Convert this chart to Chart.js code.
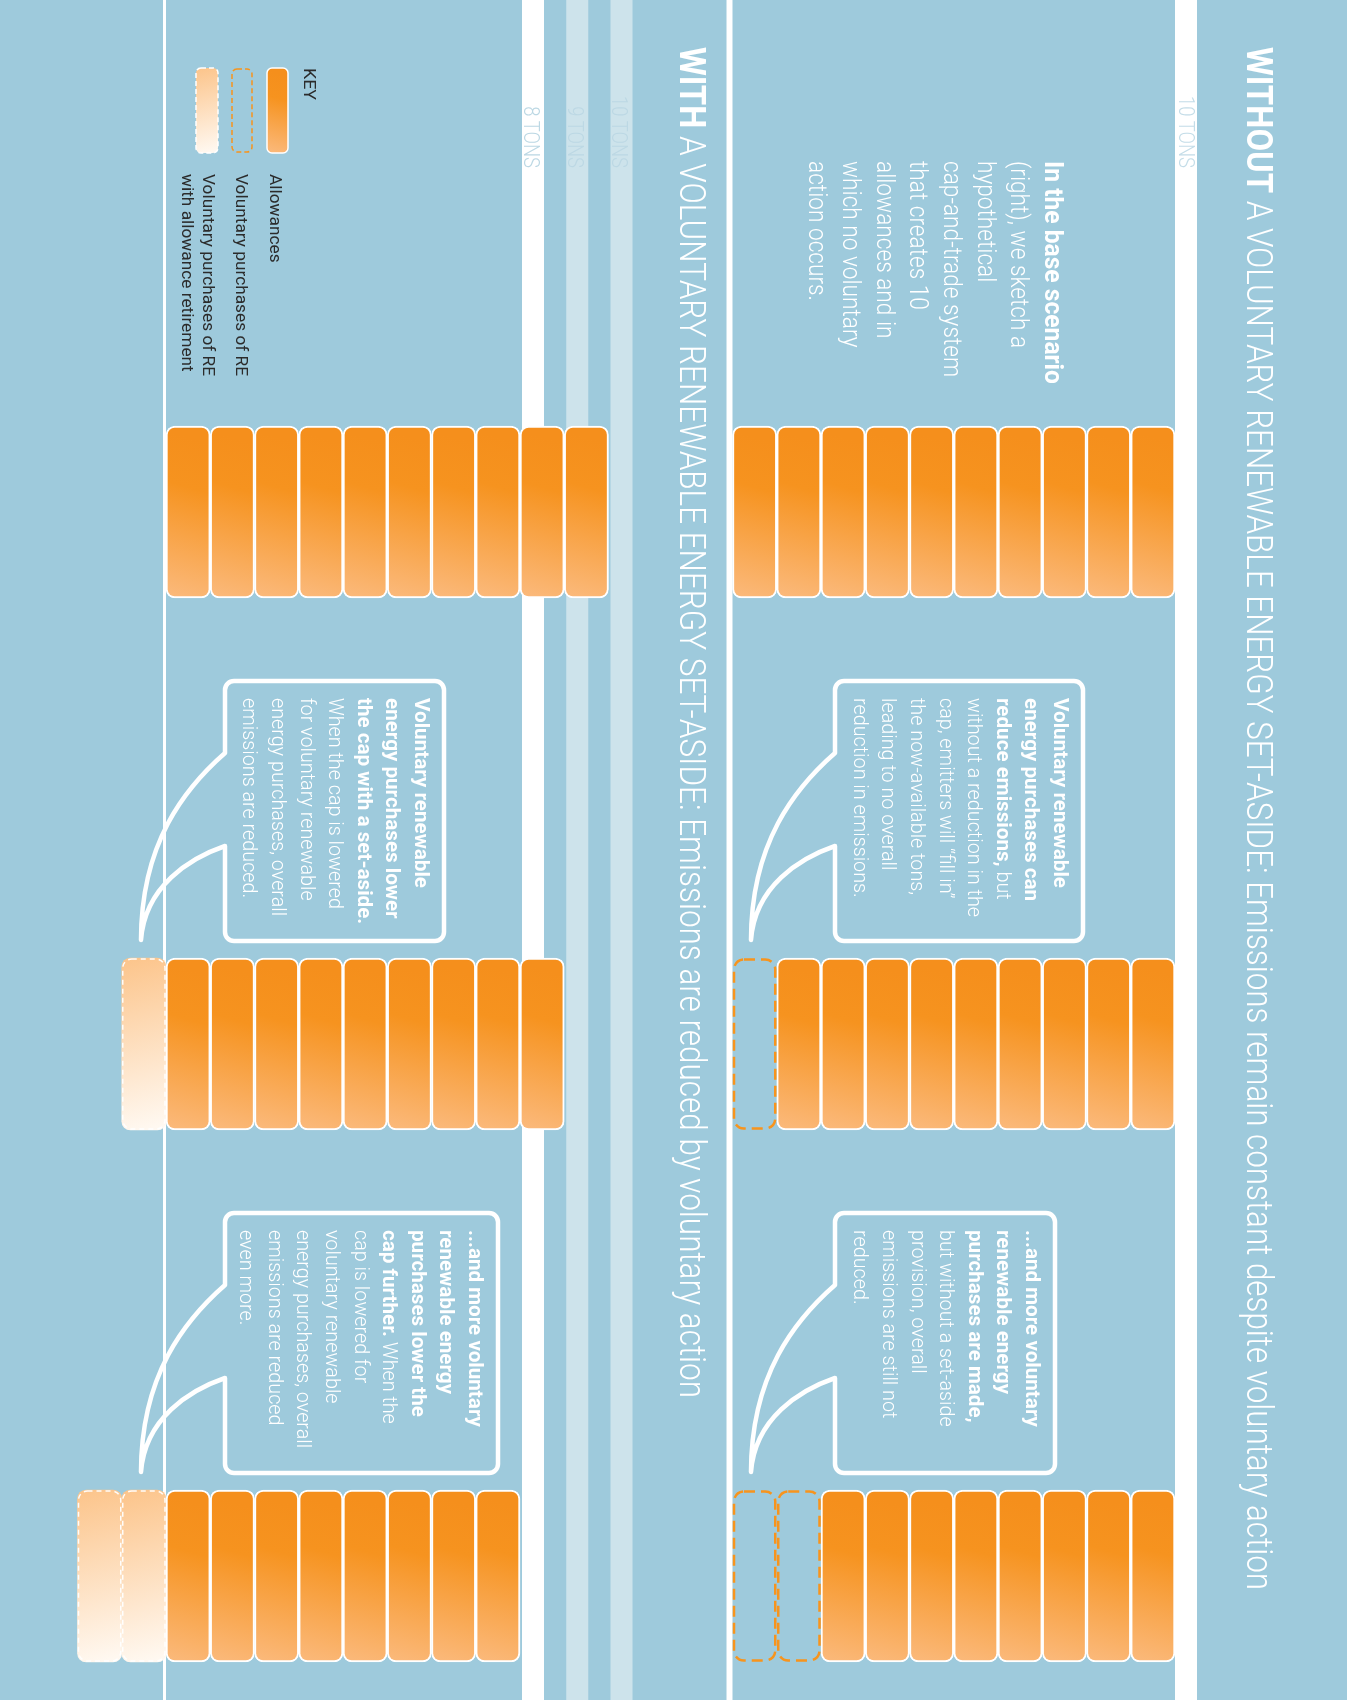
<!DOCTYPE html>
<html>
<head>
<meta charset="utf-8">
<title>Voluntary renewable energy set-aside</title>
<script src="https://cdn.jsdelivr.net/npm/chart.js@4.4.1/dist/chart.umd.min.js"></script>
<style>
  html, body { margin: 0; padding: 0; background: #ffffff; }
  #wrap { width: 1355px; height: 1700px; }
</style>
</head>
<body>
<div id="wrap"><canvas id="setAsideChart" width="1355" height="1700"></canvas></div>
<script>
// --- data -------------------------------------------------------------
const scenarios = ["Base scenario", "Voluntary purchases", "More voluntary purchases"];
const allowancesWithout = [10, 9, 8];   // allowances, no set-aside
const voluntaryWithout = [0, 1, 2];     // voluntary RE purchases (filled in by emitters)
const allowancesWith = [10, 9, 8];      // allowances under a set-aside
const retiredWith = [0, 1, 2];          // voluntary RE purchases with allowance retirement
const capLevelsWithout = [10];
const capLevelsWith = [10, 9, 8];
const capLabelsWithout = ["10 TONS"];
const capLabelsWith = ["10 TONS", "9 TONS", "8 TONS"];

// --- look -------------------------------------------------------------
const BLUE = "#9ecadc";
const LIGHT_STRIP = "#cde3eb";
const ORANGE = "#f7941d";
const FONT = 'Roboto, "Liberation Sans", Arial, sans-serif';
const UNIT = 44.25;            // px per ton
const BASE_WITHOUT = 732.5;    // px of the zero line, top panel
const BASE_WITH = 166;         // px of the zero line, bottom panel
const CANVAS_W = 1355, CANVAS_H = 1700;

const radius = { topLeft: 9, topRight: 9, bottomLeft: 9, bottomRight: 9 };
const common = { grouped: false, barThickness: 172, maxBarThickness: 172, borderSkipped: false, borderRadius: radius, clip: false };

// one dataset per block layer, so every block is its own rounded bar
function layers(counts, n, sign) {
    const out = [];
    for (let k = 0; k < n; k++) out.push(counts.map(c => (k < c ? sign : null)));
    return out;
}

const datasets = [];
layers(voluntaryWithout, 2, 1).forEach((d, k) => datasets.push(Object.assign({
    label: "Voluntary purchases of RE " + (k + 1), kind: "vol", data: d, xAxisID: "x1",
    backgroundColor: "rgba(0,0,0,0)", borderWidth: 0
}, common)));
layers(allowancesWithout, 10, 1).forEach((d, k) => datasets.push(Object.assign({
    label: "Allowance " + (k + 1), kind: "allow", data: d, xAxisID: "x1",
    backgroundColor: () => ORANGE, borderColor: "#ffffff", borderWidth: 2
}, common)));
layers(allowancesWith, 10, 1).forEach((d, k) => datasets.push(Object.assign({
    label: "Allowance " + (k + 1), kind: "allow", data: d, xAxisID: "x2",
    backgroundColor: () => ORANGE, borderColor: "#ffffff", borderWidth: 2
}, common)));
layers(retiredWith, 2, -1).forEach((d, k) => datasets.push(Object.assign({
    label: "Voluntary purchases with retirement " + (k + 1), kind: "retire", data: d, xAxisID: "x2",
    backgroundColor: () => "#fdd9b0", borderWidth: 0
}, common)));

// --- text helpers (everything reads top-to-bottom) ----------------------
function segsOf(line, w) {
    return typeof line === "string" ? [[line, w]] : line;
}
function textW(ctx, t, w, size) {
    ctx.font = `${w} ${size}px ${FONT}`;
    return ctx.measureText(t).width;
}
function richWidth(ctx, segs, size) {
    let total = 0;
    segs.forEach(([t, w]) => { total += textW(ctx, t, w, size); });
    return total;
}
// sx: a number, or {bold, light} factors to squeeze the text along its run
function drawRich(ctx, segs, X, Y, size, sx, color, align) {
    const fx = w => (typeof sx === "number" ? sx : (w >= 600 ? sx.bold : sx.light));
    let total = 0;
    segs.forEach(([t, w]) => { total += textW(ctx, t, w, size) * fx(w); });
    ctx.save();
    ctx.translate(X, Y);
    ctx.rotate(Math.PI / 2);
    ctx.fillStyle = color;
    ctx.textBaseline = "alphabetic";
    ctx.textAlign = "left";
    let u = align === "right" ? -total : 0;
    segs.forEach(([t, w]) => {
        const k = fx(w);
        ctx.font = `${w} ${size}px ${FONT}`;
        ctx.save();
        ctx.translate(u, 0);
        ctx.scale(k, 1);
        ctx.fillText(t, 0, 0);
        ctx.restore();
        u += ctx.measureText(t).width * k;
    });
    ctx.restore();
}
function drawPara(ctx, lines, X0, Y0, size, lh, sx, color) {
    lines.forEach((line, i) => drawRich(ctx, segsOf(line, 300), X0 - i * lh, Y0, size, sx, color));
}

function roundRectPath(ctx, l, t, w, h, r) {
    ctx.beginPath();
    ctx.moveTo(l + r, t);
    ctx.arcTo(l + w, t, l + w, t + h, r);
    ctx.arcTo(l + w, t + h, l, t + h, r);
    ctx.arcTo(l, t + h, l, t, r);
    ctx.arcTo(l, t, l + w, t, r);
    ctx.closePath();
}

function blockFill(ctx, kind, l, r, t, b) {
    if (kind === "retire") {
        const g = ctx.createLinearGradient(l, t, r, b);
        g.addColorStop(0, "#fcc48a");
        g.addColorStop(1, "#fffaf4");
        return g;
    }
    const g = ctx.createLinearGradient(r, t + (b - t) * 0.1, l, b);
    g.addColorStop(0, "#f58f1c");
    g.addColorStop(0.3, "#f6931f");
    g.addColorStop(1, "#fbba7d");
    return g;
}

// speech bubble with curved tail pointing at the next column
function bubble(ctx, L, R, T, B) {
    const r = 9, a1 = T + 72, a2 = T + 165, tipX = L - 84, tipY = T + 259;
    ctx.beginPath();
    ctx.moveTo(L, a1);
    ctx.lineTo(L, T + r); ctx.arcTo(L, T, L + r, T, r);
    ctx.lineTo(R - r, T); ctx.arcTo(R, T, R, T + r, r);
    ctx.lineTo(R, B - r); ctx.arcTo(R, B, R - r, B, r);
    ctx.lineTo(L + r, B); ctx.arcTo(L, B, L, B - r, r);
    ctx.lineTo(L, a2);
    ctx.bezierCurveTo(L - 35, a2 + 12, tipX + 4, a2 + 40, tipX, tipY);
    ctx.bezierCurveTo(tipX, a1 + 90, L - 40, a1 + 35, L, a1);
    ctx.closePath();
    ctx.stroke();
}

const B = 700, R = 300;
const baseText = [[["In the base scenario", B]], "(right), we sketch a", "hypothetical", "cap-and-trade system",
    "that creates 10", "allowances and in", "which no voluntary", "action occurs."];
const note1 = [[["Voluntary renewable", B]], [["energy purchases can", B]], [["reduce emissions,", B], [" but", R]],
    "without a reduction in the", "cap, emitters will \u201cfill in\u201d", "the now-available tons,",
    "leading to no overall", "reduction in emissions."];
const note2 = [[["...and more voluntary", B]], [["renewable energy", B]], [["purchases are made,", B]],
    "but without a set-aside", "provision, overall", "emissions are still not", "reduced."];
const note3 = [[["Voluntary renewable", B]], [["energy purchases lower", B]], [["the cap with a set-aside.", B]],
    "When the cap is lowered", "for voluntary renewable", "energy purchases, overall", "emissions are reduced."];
const note4 = [[["...and more voluntary", B]], [["renewable energy", B]], [["purchases lower the", B]],
    [["cap further.", B], [" When the", R]], "cap is lowered for", "voluntary renewable",
    "energy purchases, overall", "emissions are reduced", "even more."];

const decor = {
    id: "decor",
    beforeDatasetsDraw(chart) {
        const ctx = chart.ctx;
        const W = chart.width, H = chart.height;
        const sOut = chart.scales.x1, sIn = chart.scales.x2;
        const zeroOut = sOut.getPixelForValue(0);
        const capOut = sOut.getPixelForValue(capLevelsWithout[0]);
        const zeroIn = sIn.getPixelForValue(0);
        ctx.save();
        ctx.fillStyle = "#ffffff";
        ctx.fillRect(0, 0, W, H);
        ctx.fillStyle = BLUE;
        ctx.fillRect(0, 0, zeroOut - 6, H);
        ctx.fillRect(zeroOut, 0, capOut - zeroOut, H);
        ctx.fillRect(capOut + 22, 0, W - 8 - capOut - 22, H);

        // cap strips of the set-aside panel
        capLevelsWith.forEach((lv, i) => {
            const p = sIn.getPixelForValue(lv);
            ctx.fillStyle = i === capLevelsWith.length - 1 ? "#ffffff" : LIGHT_STRIP;
            ctx.fillRect(p + 2, 0, 22, H);
        });
        ctx.fillStyle = "#ffffff";
        ctx.fillRect(zeroIn - 3, 0, 3, H);

        // cap labels
        const tonSize = 22;
        const sxTon = 72 / textW(ctx, "10 TONS", 300, tonSize);
        capLabelsWithout.forEach((t, i) => {
            drawRich(ctx, [[t, 300]], sOut.getPixelForValue(capLevelsWithout[i]) + 3.5, 168, tonSize, sxTon, "#c4dde8", "right");
        });
        capLabelsWith.forEach((t, i) => {
            drawRich(ctx, [[t, 300]], sIn.getPixelForValue(capLevelsWith[i]) + 3.5, 168, tonSize, sxTon, "#bcd8e4", "right");
        });

        // titles
        const tSize = 36;
        const title1 = [["WITHOUT", 700], [" A VOLUNTARY RENEWABLE ENERGY SET-ASIDE: Emissions remain constant despite voluntary action", 300]];
        const title2 = [["WITH", 700], [" A VOLUNTARY RENEWABLE ENERGY SET-ASIDE: Emissions are reduced by voluntary action", 300]];
        const tBold = 146 / textW(ctx, "WITHOUT", 700, tSize);
        const tLight1 = (1543 - 146) / textW(ctx, title1[1][0], 300, tSize);
        const tLight2 = (1351 - textW(ctx, "WITH", 700, tSize) * tBold) / textW(ctx, title2[1][0], 300, tSize);
        drawRich(ctx, title1, 1247, 47, tSize, { bold: tBold, light: tLight1 }, "#ffffff");
        drawRich(ctx, title2, 680, 47, tSize, { bold: tBold, light: tLight2 }, "#ffffff");

        // base scenario text
        const sxBase = {
            light: 216 / textW(ctx, "cap-and-trade system", 300, 25),
            bold: 223 / textW(ctx, "In the base scenario", 700, 25)
        };
        drawPara(ctx, baseText, 1045, 161, 25, 33.7, sxBase, "#ffffff");

        // notes + bubbles
        const nSize = 21, nLh = 28.6;
        const sxNote = {
            light: 219 / textW(ctx, "without a reduction in the", 300, nSize),
            bold: 190 / textW(ctx, "Voluntary renewable", 700, nSize)
        };
        ctx.strokeStyle = "#ffffff";
        ctx.lineWidth = 4.5;
        ctx.lineJoin = "round";
        const boxes = [[835, 1083, 681, 941, note1], [835, 1055, 1213, 1473, note2],
                       [225, 444, 681, 941, note3], [225, 498, 1213, 1473, note4]];
        boxes.forEach(([L, Rr, T, Bt, lines]) => {
            bubble(ctx, L, Rr, T, Bt);
            drawPara(ctx, lines, Rr - 29, T + 17, nSize, nLh, sxNote, "#ffffff");
        });

        // key
        const kSize = 17;
        const sxKey = 202 / textW(ctx, "Voluntary purchases of RE", 400, kSize);
        drawRich(ctx, [["KEY", 400]], 304, 68, kSize, 32 / textW(ctx, "KEY", 400, kSize), "#2b2b2b");
        ctx.lineWidth = 1.5;
        roundRectPath(ctx, 267, 68, 21, 85, 5);
        ctx.fillStyle = blockFill(ctx, "allow", 267, 288, 68, 153);
        ctx.fill();
        ctx.strokeStyle = "#ffffff";
        ctx.stroke();
        ctx.setLineDash([5, 3]);
        roundRectPath(ctx, 232, 69, 20, 83, 5);
        ctx.strokeStyle = ORANGE;
        ctx.stroke();
        roundRectPath(ctx, 196, 68, 22, 85, 5);
        ctx.fillStyle = blockFill(ctx, "retire", 196, 218, 68, 153);
        ctx.fill();
        ctx.strokeStyle = "#ffffff";
        ctx.stroke();
        ctx.setLineDash([]);
        drawRich(ctx, [["Allowances", 400]], 270, 174, kSize, sxKey, "#2b2b2b");
        drawRich(ctx, [["Voluntary purchases of RE", 400]], 236, 174, kSize, sxKey, "#2b2b2b");
        drawRich(ctx, [["Voluntary purchases of RE", 400]], 202.5, 174, kSize, sxKey, "#2b2b2b");
        drawRich(ctx, [["with allowance retirement", 400]], 182, 174, kSize, sxKey, "#2b2b2b");
        ctx.restore();
    },
    beforeDatasetDraw(chart, args) {
        const ds = chart.data.datasets[args.index];
        if (ds.kind === "vol") return;
        args.meta.data.forEach(el => {
            const p = el.getProps(["x", "y", "base", "height"], true);
            if (!isFinite(p.x) || !isFinite(p.base)) return;
            el.options.backgroundColor = blockFill(chart.ctx, ds.kind,
                Math.min(p.x, p.base), Math.max(p.x, p.base), p.y - p.height / 2, p.y + p.height / 2);
        });
    },
    afterDatasetsDraw(chart) {
        const ctx = chart.ctx;
        ctx.save();
        chart.data.datasets.forEach((ds, i) => {
            if (ds.kind !== "vol" && ds.kind !== "retire") return;
            chart.getDatasetMeta(i).data.forEach((el, j) => {
                if (ds.data[j] === null) return;
                const p = el.getProps(["x", "y", "base", "height"], true);
                const l = Math.min(p.x, p.base), w = Math.abs(p.x - p.base);
                const t = p.y - p.height / 2;
                if (ds.kind === "vol") {
                    ctx.setLineDash([11, 6]);
                    ctx.lineWidth = 2.5;
                    ctx.strokeStyle = ORANGE;
                    roundRectPath(ctx, l + 1.5, t + 1.5, w - 3, p.height - 3, 10);
                } else {
                    ctx.setLineDash([5, 4]);
                    ctx.lineWidth = 1.5;
                    ctx.strokeStyle = "rgba(255,255,255,0.95)";
                    roundRectPath(ctx, l + 1, t + 1, w - 2, p.height - 2, 9);
                }
                ctx.stroke();
            });
        });
        ctx.restore();
    }
};

const ctxChart = document.getElementById("setAsideChart").getContext("2d");
const COL_FIRST = 512, COL_LAST = 1576;   // centres of the first and last column

new Chart(ctxChart, {
    type: "bar",
    data: { labels: scenarios, datasets: datasets },
    options: {
        indexAxis: "y",
        responsive: false,
        animation: false,
        events: [],
        layout: { padding: { top: COL_FIRST, bottom: CANVAS_H - COL_LAST, left: 0, right: 0 } },
        plugins: { legend: { display: false }, tooltip: { enabled: false } },
        scales: {
            y: { type: "category", offset: false, display: false },
            x1: {
                type: "linear", axis: "x", stacked: true, display: false, bounds: "data",
                min: -BASE_WITHOUT / UNIT, max: (CANVAS_W - BASE_WITHOUT) / UNIT
            },
            x2: {
                type: "linear", axis: "x", stacked: true, display: false, bounds: "data",
                min: -BASE_WITH / UNIT, max: (CANVAS_W - BASE_WITH) / UNIT
            }
        }
    },
    plugins: [decor]
});
</script>
</body>
</html>
